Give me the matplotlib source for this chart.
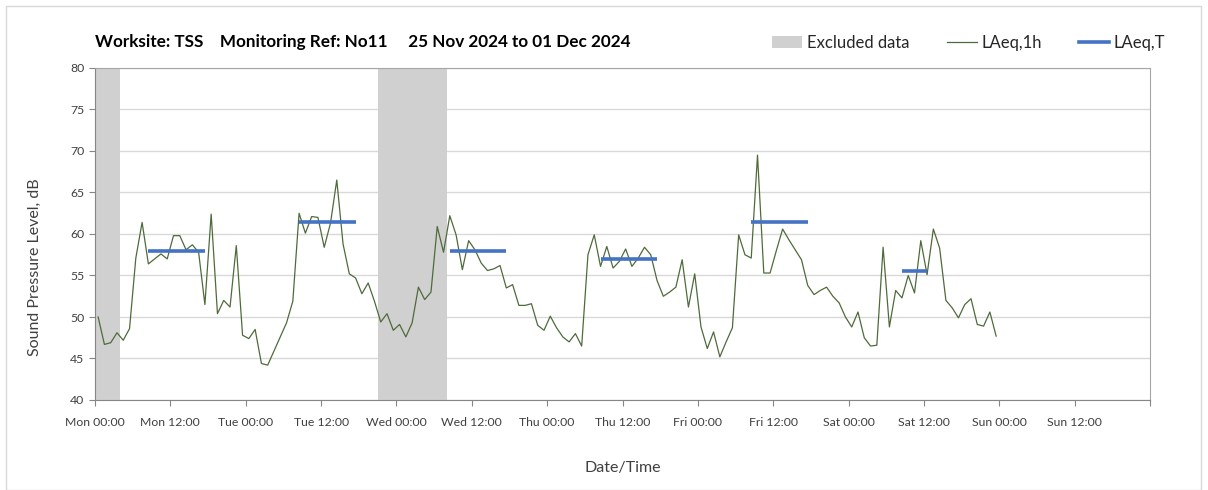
import numpy as np
import matplotlib
matplotlib.use("Agg")
import matplotlib.pyplot as plt
from matplotlib.patches import Patch, Rectangle
from matplotlib.lines import Line2D

plt.rcParams['font.family'] = ['Lato', 'DejaVu Sans']

# hourly LAeq,1h values, one list per day (Mon 25 Nov .. Sat 30 Nov)
mon = [50.0, 46.7, 46.9, 48.1, 47.2, 48.6, 57.1, 61.4, 56.4, 57.0, 57.6, 57.0,
       59.8, 59.8, 58.1, 58.7, 57.8, 51.5, 62.4, 50.4, 52.0, 51.2, 58.6, 47.8]
tue = [47.4, 48.5, 44.4, 44.2, 45.9, 47.6, 49.3, 51.9, 62.5, 60.1, 62.1, 62.0,
       58.4, 61.3, 66.5, 58.8, 55.2, 54.7, 52.8, 54.1, 51.9, 49.4, 50.4, 48.4]
wed = [49.1, 47.6, 49.3, 53.6, 52.1, 53.0, 60.9, 57.8, 62.2, 59.9, 55.7, 59.2,
       58.1, 56.5, 55.6, 55.8, 56.2, 53.5, 53.9, 51.4, 51.4, 51.6, 49.0, 48.4]
thu = [50.1, 48.7, 47.6, 47.0, 48.0, 46.5, 57.5, 59.9, 56.1, 58.5, 55.9, 56.7,
       58.2, 56.1, 57.1, 58.4, 57.5, 54.4, 52.5, 53.0, 53.6, 56.9, 51.2, 55.2]
fri = [48.8, 46.2, 48.2, 45.2, 47.0, 48.7, 59.9, 57.5, 57.1, 69.5, 55.3, 55.3,
       58.0, 60.6, 59.3, 58.1, 56.9, 53.8, 52.7, 53.2, 53.6, 52.5, 51.7, 50.0]
sat = [48.8, 50.6, 47.5, 46.5, 46.6, 58.4, 48.8, 53.2, 52.3, 55.0, 52.9, 59.2,
       55.1, 60.6, 58.3, 52.0, 51.1, 49.9, 51.5, 52.2, 49.1, 48.9, 50.6, 47.7]
laeq_1h = mon + tue + wed + thu + fri + sat
hours = np.arange(len(laeq_1h)) + 0.5   # hours since Mon 00:00, mid-period

# LAeq,T periods (start hour, end hour, level)
t_start = [8.5, 32.5, 56.5, 80.5, 104.5, 128.5]
t_end = [17.5, 41.5, 65.5, 89.5, 113.5, 132.5]
t_level = [57.9, 61.5, 57.9, 57.0, 61.5, 55.6]

# excluded periods (hours)
excl_start = [0, 45]
excl_end = [4, 56]

days = ['Mon', 'Tue', 'Wed', 'Thu', 'Fri', 'Sat', 'Sun']
tick_labels = []
for d in days:
    tick_labels += [d + ' 00:00', d + ' 12:00']
tick_labels.append('')

green = '#4e6b3a'
blue = '#4472c4'
grey = '#d0d0d0'

fig = plt.figure(figsize=(12.08, 4.9), dpi=100)
ax = fig.add_axes([95/1208, 1 - 400/490, 1055/1208, 332/490])

for s, e in zip(excl_start, excl_end):
    ax.axvspan(s, e, color=grey, lw=0, zorder=1)

ax.plot(hours, laeq_1h, color=green, lw=0.9, zorder=3)
ax.hlines(t_level, t_start, t_end, color=blue, lw=2.6, zorder=4)

ax.set_xlim(0, 168)
ax.set_ylim(40, 80)
ax.set_yticks(np.arange(40, 81, 5))
ax.set_xticks(np.arange(0, 169, 12))
ax.set_xticklabels(tick_labels)
ax.set_xticks(np.arange(0, 169, 24), minor=True)
ax.grid(axis='y', color='#d9d9d9', lw=1, zorder=0)
ax.grid(axis='x', which='minor', color='#d9d9d9', lw=1, zorder=0)
ax.tick_params(axis='x', which='minor', length=0)
ax.tick_params(axis='both', which='major', labelsize=8.8, labelcolor='#404040',
               color='#868686', length=4, direction='out')
ax.tick_params(axis='x', pad=8)
ax.set_axisbelow(True)
for side in ['left', 'bottom']:
    ax.spines[side].set_color('#868686')
for side in ['top', 'right']:
    ax.spines[side].set_color('#a6a6a6')

ax.set_ylabel('Sound Pressure Level, dB', fontsize=11.5, color='#404040')
ax.yaxis.set_label_coords(-0.050, 0.40)
ax.set_xlabel('Date/Time', fontsize=11.5, color='#404040', labelpad=24)

fig.text(95/1208, 1 - 42/490,
         'Worksite: TSS    Monitoring Ref: No11     25 Nov 2024 to 01 Dec 2024',
         fontsize=12.3, fontweight='bold', va='center', ha='left')

handles = [Patch(color=grey, lw=0),
           Line2D([], [], color=green, lw=0.9),
           Line2D([], [], color=blue, lw=2.6)]
fig.legend(handles, ['Excluded data', 'LAeq,1h', 'LAeq,T'], ncol=3,
           loc='center right', bbox_to_anchor=(0.977, 1 - 43/490), frameon=False,
           fontsize=12, handlelength=1.8, columnspacing=2.2, handletextpad=0.3,
           labelcolor='#262626')

fig.patches.append(Rectangle((6/1208, 0), 1195/1208, 1 - 6/490, transform=fig.transFigure,
                             fill=False, edgecolor='#d9d9d9', lw=1))

fig.savefig('out.png', dpi=100)
